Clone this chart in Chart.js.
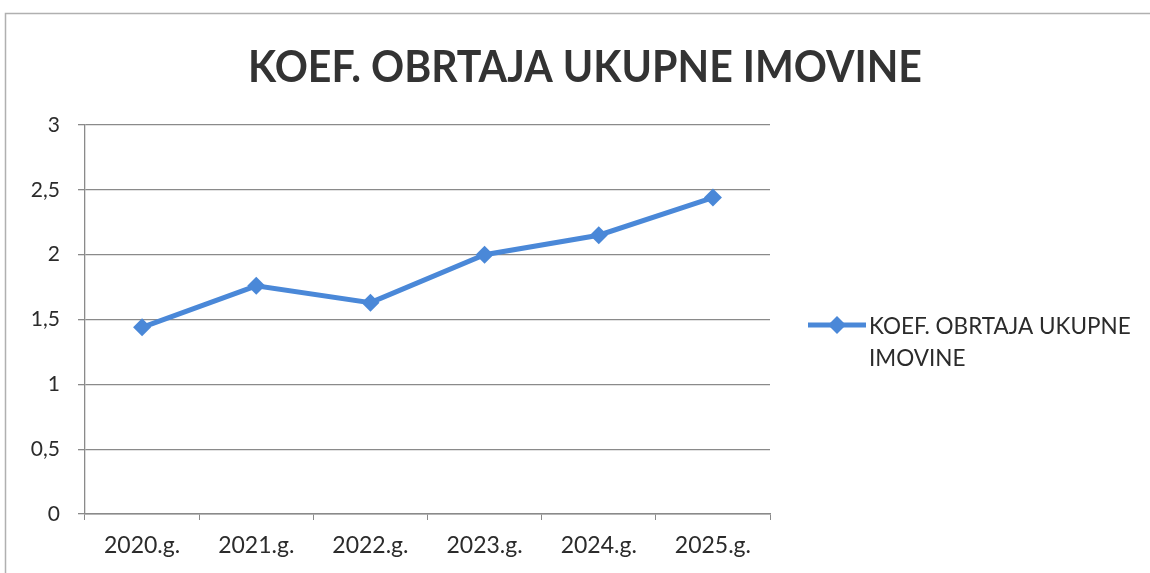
<!DOCTYPE html>
<html>
<head>
<meta charset="utf-8">
<script src="https://cdn.jsdelivr.net/npm/chart.js@4/dist/chart.umd.min.js"></script>
<style>
html,body{margin:0;padding:0;background:#fff;}
#wrap{width:1150px;height:573px;position:relative;}
</style>
</head>
<body>
<div id="wrap"><canvas id="c" width="1150" height="573"></canvas></div>
<script>
const chartTitle = "KOEF. OBRTAJA UKUPNE IMOVINE";
const categories = ["2020.g.", "2021.g.", "2022.g.", "2023.g.", "2024.g.", "2025.g."];
const seriesName = ["KOEF. OBRTAJA UKUPNE", "IMOVINE"];
const seriesValues = [1.44, 1.76, 1.63, 2.0, 2.15, 2.44];
const yTicks = [0, 0.5, 1, 1.5, 2, 2.5, 3];

const lineColor = "#4a88d8";
const textColor = "#2b2b2b";
const gridColor = "#8a8a8a";
const fontFam = "Lato, 'Liberation Sans', sans-serif";

const decor = {
  id: "decor",
  beforeDraw(chart) {
    const ctx = chart.ctx;
    ctx.save();
    ctx.fillStyle = "#fff";
    ctx.fillRect(0, 0, chart.width, chart.height);
    ctx.strokeStyle = "#b0b0b0";
    ctx.lineWidth = 1.5;
    ctx.strokeRect(5.5, 13.5, 1300, 700);
    ctx.restore();
  },
  afterDraw(chart) {
    const ctx = chart.ctx;
    ctx.save();
    // title
    ctx.fillStyle = "#333";
    ctx.font = "bold 44px " + fontFam;
    ctx.textAlign = "center";
    ctx.textBaseline = "middle";
    const tw = ctx.measureText(chartTitle).width;
    const target = 674;
    ctx.translate(585, 68);
    ctx.scale(target / tw, 1);
    ctx.fillText(chartTitle, 0, 0);
    ctx.restore();
    // legend
    ctx.save();
    ctx.strokeStyle = lineColor;
    ctx.lineWidth = 5;
    ctx.beginPath();
    ctx.moveTo(808, 325);
    ctx.lineTo(866, 325);
    ctx.stroke();
    ctx.fillStyle = lineColor;
    ctx.beginPath();
    ctx.moveTo(837, 316); ctx.lineTo(846, 325); ctx.lineTo(837, 334); ctx.lineTo(828, 325);
    ctx.closePath();
    ctx.fill();
    ctx.fillStyle = textColor;
    ctx.font = "22.5px " + fontFam;
    ctx.textAlign = "left";
    ctx.textBaseline = "middle";
    ctx.fillText(seriesName[0], 869, 327);
    ctx.fillText(seriesName[1], 869, 359);
    ctx.restore();
  }
};

new Chart(document.getElementById("c"), {
  type: "line",
  data: {
    labels: categories,
    datasets: [{
      label: seriesName.join(" "),
      data: seriesValues,
      borderColor: lineColor,
      backgroundColor: lineColor,
      borderWidth: 5,
      pointStyle: "rectRot",
      pointRadius: 9,
      pointBorderWidth: 0,
      pointBackgroundColor: lineColor,
      tension: 0,
      clip: false
    }]
  },
  options: {
    responsive: false,
    animation: false,
    devicePixelRatio: 1,
    layout: { padding: { top: 125, right: 380, left: 0, bottom: 0 } },
    plugins: {
      legend: { display: false },
      title: { display: false },
      tooltip: { enabled: false }
    },
    scales: {
      x: {
        offset: true,
        grid: { display: true, drawOnChartArea: false, drawTicks: true, tickLength: 6, color: gridColor, offset: true },
        border: { display: true, color: gridColor, width: 1.5 },
        ticks: { color: textColor, font: { family: fontFam, size: 23 }, padding: 12, maxRotation: 0 },
        afterFit(s) { s.height = 59; }
      },
      y: {
        min: 0, max: 3,
        afterBuildTicks(s) { s.ticks = yTicks.map(v => ({ value: v })); },
        grid: { color: gridColor, lineWidth: 1.3, tickLength: 7 },
        border: { display: true, color: gridColor, width: 1.3 },
        ticks: {
          color: textColor,
          font: { family: fontFam, size: 21 },
          padding: 18,
          callback: v => String(v).replace(".", ",")
        },
        afterFit(s) { s.width = 85; }
      }
    }
  },
  plugins: [decor]
});
</script>
</body>
</html>
